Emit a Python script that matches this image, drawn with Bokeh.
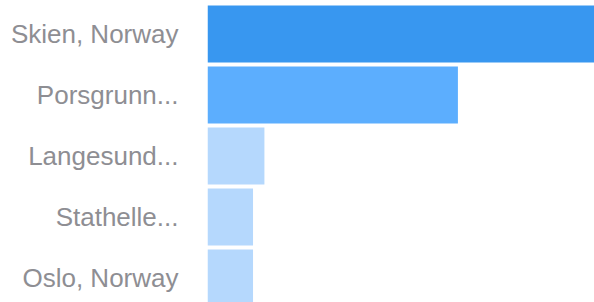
from bokeh.plotting import figure
from bokeh.models import Range1d, ColumnDataSource, FixedTicker
from bokeh.embed import file_html
from bokeh.resources import INLINE

cities = ["Skien, Norway", "Porsgrunn...", "Langesund...", "Stathelle...", "Oslo, Norway"]
counts = [34, 22, 5, 4, 4]
colors = ["#3897f0", "#5caefe", "#b5d8fd", "#b5d8fd", "#b5d8fd"]

idx = list(range(len(cities)))
src = ColumnDataSource(dict(y=idx, right=counts, color=colors))

p = figure(width=594, height=302, output_backend="svg", toolbar_location=None,
           x_range=Range1d(0, 34), y_range=Range1d(4.402, -0.549),
           min_border=0, min_border_left=207, min_border_right=0,
           min_border_top=0, min_border_bottom=0)
p.outline_line_color = None
p.background_fill_color = "white"
p.border_fill_color = "white"
p.xgrid.visible = False
p.ygrid.visible = False
p.xaxis.visible = False

p.hbar(y="y", left=0, right="right", height=0.934, fill_color="color",
       line_color=None, source=src)

ax = p.yaxis[0]
ax.ticker = FixedTicker(ticks=idx)
ax.major_label_overrides = {i: c for i, c in zip(idx, cities)}
ax.axis_line_color = None
ax.major_tick_line_color = None
ax.minor_tick_line_color = None
ax.major_tick_out = 0
ax.major_tick_in = 0
ax.major_label_standoff = 29
ax.major_label_text_font = "Liberation Sans"
ax.major_label_text_font_size = "26px"
ax.major_label_text_color = "#8e8e93"

open("out.html", "w").write(file_html(p, INLINE))
